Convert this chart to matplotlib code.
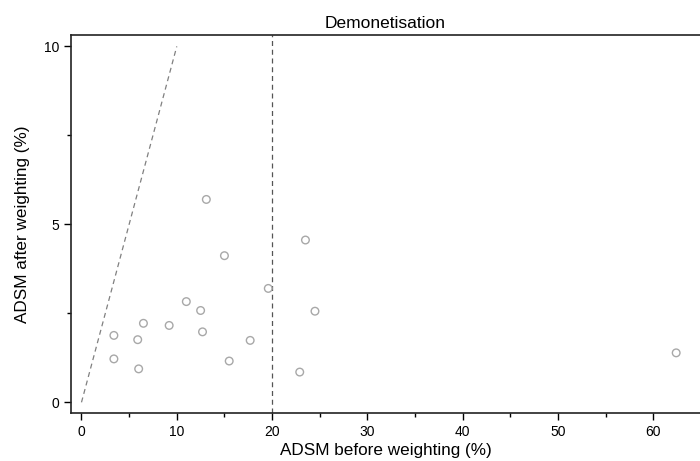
import matplotlib
matplotlib.use("Agg")
import matplotlib.pyplot as plt
from matplotlib.ticker import MultipleLocator

plt.rcParams['font.family'] = ['Liberation Sans', 'DejaVu Sans']

# ADSM before / after weighting (%)
before = [3.4, 3.4, 5.9, 6.0, 6.5, 9.2, 11.0, 12.5, 12.7, 13.1, 15.0, 15.5,
          17.7, 19.6, 23.5, 24.5, 22.9, 62.4]
after = [1.88, 1.22, 1.76, 0.94, 2.22, 2.16, 2.83, 2.58, 1.98, 5.70, 4.12, 1.16,
         1.74, 3.20, 4.56, 2.56, 0.85, 1.39]
diag = [0, 10]
threshold = 20

fig = plt.figure(figsize=(7, 4.61), dpi=100)
ax = fig.add_axes([71/700, 48/461, 629/700, 378/461])

ax.scatter(before, after, s=30, facecolors='none', edgecolors='#a8a8a8', linewidths=1.0, zorder=3)
ax.plot(diag, diag, linestyle=(0, (4, 3)), color='#808080', linewidth=0.9)
ax.axvline(threshold, linestyle=(0, (4, 3)), color='#555555', linewidth=0.9)

ax.set_xlim(-1.1, 64.9)
ax.set_ylim(-0.3, 10.32)
ax.xaxis.set_major_locator(MultipleLocator(10))
ax.xaxis.set_minor_locator(MultipleLocator(5))
ax.yaxis.set_major_locator(MultipleLocator(5))
ax.yaxis.set_minor_locator(MultipleLocator(2.5))
ax.tick_params(which='major', length=5, width=1, labelsize=10, colors='black')
ax.tick_params(which='minor', length=3, width=1)

for s in ['left', 'bottom', 'top']:
    ax.spines[s].set_linewidth(1.2)
    ax.spines[s].set_color('#222222')
ax.spines['right'].set_visible(False)

ax.set_title('Demonetisation', fontsize=12.5, pad=5)
ax.set_xlabel('ADSM before weighting (%)', fontsize=12.3, labelpad=3)
ax.set_ylabel('ADSM after weighting (%)', fontsize=12.3, labelpad=10)

fig.savefig('out.png', dpi=100)
